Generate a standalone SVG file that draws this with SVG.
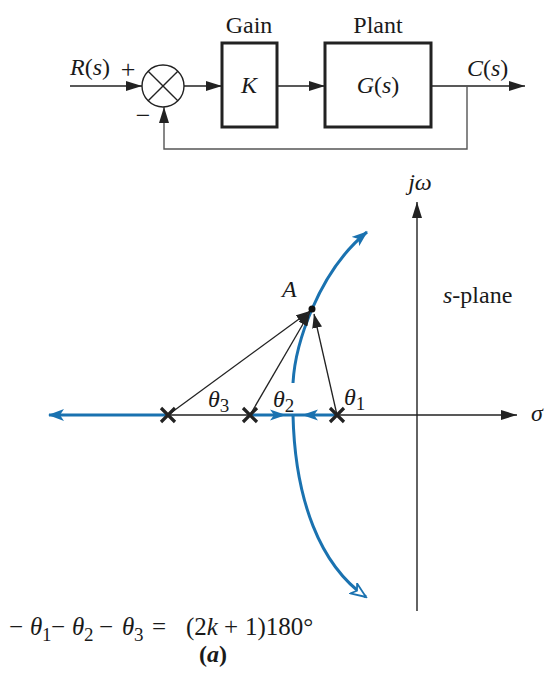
<svg xmlns="http://www.w3.org/2000/svg" width="557" height="691" viewBox="0 0 557 691">
<style>
  text { font-family: "Liberation Serif", "Times New Roman", serif; fill: #1a1a1a; }
  .t { font-size: 24px; }
  .eq { font-size: 25px; }
  .sub { font-size: 19px; font-style: normal; }
  .it { font-style: italic; }
  .line { stroke: #222; stroke-width: 1.4; fill: none; }
  .box { stroke: #222; stroke-width: 3; fill: #fff; }
  .blue { stroke: #1a72b0; stroke-width: 3; fill: none; }
  .pole { stroke: #222; stroke-width: 3.2; }
</style>
<defs>
  <marker id="ah" viewBox="0 0 16 10" refX="16" refY="5" markerWidth="16" markerHeight="10" markerUnits="userSpaceOnUse" orient="auto">
    <path d="M0,0 L16,5 L0,10 Z" fill="#222"/>
  </marker>
  <marker id="ahv" viewBox="0 0 14 10" refX="14" refY="5" markerWidth="14" markerHeight="10" markerUnits="userSpaceOnUse" orient="auto">
    <path d="M0,0 L14,5 L0,10 Z" fill="#222"/>
  </marker>
  <marker id="bh" viewBox="0 0 16 12" refX="15" refY="6" markerWidth="16" markerHeight="12" markerUnits="userSpaceOnUse" orient="auto">
    <path d="M0,0 L16,6 L0,12 L4,6 Z" fill="#1a72b0"/>
  </marker>
  <marker id="bho" viewBox="0 0 18 14" refX="16" refY="7" markerWidth="18" markerHeight="14" markerUnits="userSpaceOnUse" orient="auto">
    <path d="M1,1 L16,7 L1,13 L5,7 Z" fill="#fff" stroke="#1a72b0" stroke-width="1.8" stroke-linejoin="miter"/>
  </marker>
</defs>

<!-- Block diagram -->
<g id="connectors">
  <line class="line" x1="70" y1="86" x2="142" y2="86" marker-end="url(#ah)"/>
  <line class="line" x1="184" y1="86" x2="222" y2="86" marker-end="url(#ah)"/>
  <line class="line" x1="277" y1="86" x2="325" y2="86" marker-end="url(#ah)"/>
  <line class="line" x1="431" y1="86" x2="525" y2="86" marker-end="url(#ah)"/>
  <polyline points="467,86 467,149 164,149 164,107" fill="none" stroke="#555" stroke-width="1.4" marker-end="url(#ah)"/>
</g>
<g id="sum">
  <circle cx="163" cy="86" r="21" fill="#fff" stroke="#222" stroke-width="1.4"/>
  <line class="line" x1="148.2" y1="71.2" x2="177.8" y2="100.8"/>
  <line class="line" x1="177.8" y1="71.2" x2="148.2" y2="100.8"/>
  <text x="128" y="78" text-anchor="middle" font-size="26">+</text>
  <text x="143" y="124" text-anchor="middle" font-size="26">−</text>
</g>
<g id="input">
  <text class="t" x="70" y="75"><tspan class="it">R</tspan>(<tspan class="it">s</tspan>)</text>
</g>
<g id="gain">
  <rect class="box" x="222" y="43" width="55" height="84"/>
  <text class="t" x="249" y="33" text-anchor="middle">Gain</text>
  <text class="t it" x="249" y="93" text-anchor="middle">K</text>
</g>
<g id="plant">
  <rect class="box" x="325" y="43" width="106" height="84"/>
  <text class="t" x="378" y="33" text-anchor="middle">Plant</text>
  <text class="t" x="378" y="93" text-anchor="middle"><tspan class="it">G</tspan>(<tspan class="it">s</tspan>)</text>
</g>
<g id="output">
  <text class="t" x="467" y="76"><tspan class="it">C</tspan>(<tspan class="it">s</tspan>)</text>
</g>

<!-- s-plane -->
<g id="axes">
  <line class="line" x1="168" y1="415" x2="517" y2="415" marker-end="url(#ah)"/>
  <line class="line" x1="417" y1="611" x2="417" y2="202" marker-end="url(#ah)"/>
  <text class="t it" x="420" y="190" text-anchor="middle">jω</text>
  <text class="t it" x="531" y="421">σ</text>
  <text class="t" x="443" y="303"><tspan class="it">s</tspan>-plane</text>
</g>
<g id="locus">
  <line class="blue" x1="168" y1="415" x2="49" y2="415" marker-end="url(#bh)"/>
  <line class="blue" x1="250" y1="415" x2="337" y2="415"/>
  <path d="M270,409.5 L286,415 L270,420.5 L274,415 Z" fill="#1a72b0"/>
  <path d="M318,409.5 L302,415 L318,420.5 L314,415 Z" fill="#1a72b0"/>
  <path class="blue" d="M293,383 C295,345 318,272 367,232" marker-end="url(#bh)"/>
  <path class="blue" d="M293,415 C295,500 320,565 366,597" marker-end="url(#bho)"/>
</g>
<g id="vectors">
  <line stroke="#222" stroke-width="1.3" x1="168" y1="415" x2="310" y2="311" marker-end="url(#ahv)"/>
  <line stroke="#222" stroke-width="1.3" x1="250" y1="415" x2="310" y2="312" marker-end="url(#ahv)"/>
  <line stroke="#222" stroke-width="1.3" x1="337" y1="415" x2="314" y2="314" marker-end="url(#ahv)"/>
</g>
<g id="poles">
  <path class="pole" d="M161,408 L175,422 M175,408 L161,422"/>
  <path class="pole" d="M243,408 L257,422 M257,408 L243,422"/>
  <path class="pole" d="M330,408 L344,422 M344,408 L330,422"/>
</g>
<g id="pointA">
  <circle cx="312" cy="309" r="3.5" fill="#111"/>
  <text class="t it" x="282" y="297">A</text>
</g>
<g id="angles">
  <text class="t it" x="208" y="407">θ<tspan class="sub" dy="5">3</tspan></text>
  <text class="t it" x="273" y="407">θ<tspan class="sub" dy="5">2</tspan></text>
  <text class="t it" x="344" y="405">θ<tspan class="sub" dy="5">1</tspan></text>
</g>
<g id="equation">
  <text class="eq" x="9" y="635">−</text>
  <text class="eq it" x="30" y="635">θ</text>
  <text class="sub" x="42" y="641">1</text>
  <text class="eq" x="51" y="635">−</text>
  <text class="eq it" x="72" y="635">θ</text>
  <text class="sub" x="84" y="641">2</text>
  <text class="eq" x="99" y="635">−</text>
  <text class="eq it" x="122" y="635">θ</text>
  <text class="sub" x="134" y="641">3</text>
  <text class="eq" x="152" y="635">=</text>
  <text class="eq" x="186" y="635">(2<tspan class="it">k</tspan><tspan x="224">+</tspan><tspan x="245">1)180°</tspan></text>
  <text class="t" x="213" y="662" text-anchor="middle" font-weight="bold">(<tspan class="it">a</tspan>)</text>
</g>
</svg>
